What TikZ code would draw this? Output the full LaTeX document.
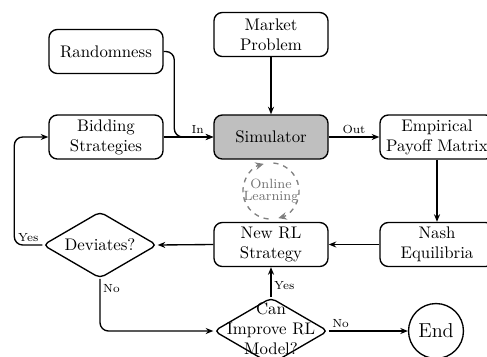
\documentclass[tikz,border=0pt]{standalone}
\usetikzlibrary{arrows.meta,shapes.geometric,calc}
\begin{document}
\begin{tikzpicture}[x=0.5952pt,y=-0.5952pt,
  box/.style={draw,thick,rounded corners=5pt,minimum width=67.9pt,minimum height=26.2pt,align=center,inner sep=2pt},
  decision/.style={draw,thick,diamond,rounded corners=3pt,minimum width=67.9pt,minimum height=39.6pt,inner sep=0pt,aspect=1.7},
  endnode/.style={draw,thick,circle,minimum size=32.7pt,inner sep=0pt,font=\large},
  arr/.style={thick,-{Stealth[length=4.5pt,width=3.6pt]}},
  lbl/.style={font=\scriptsize,inner sep=1.5pt},
  olarr/.style={gray,thick,dashed,-{Stealth[length=5pt,width=4.5pt]}}
]
\useasboundingbox (0,0) rectangle (487,356);
% nodes
\node[box] (rand) at (106,51.5) {Randomness};
\node[box] (mkt) at (271,34.5) {Market\\Problem};
\node[box] (bid) at (106,137) {Bidding\\Strategies};
\node[box,fill=gray!50] (sim) at (271,137) {Simulator};
\node[box] (emp) at (437,137) {Empirical\\Payoff Matrix};
\node[box] (nash) at (437,244.5) {Nash\\Equilibria};
\node[box] (new) at (271,244.5) {New RL\\Strategy};
\node[decision] (dev) at (100,245) {Deviates?};
\node[decision] (can) at (271,331) {};
\node[align=center] (cantext) at (271,328.5) {Can\\Improve RL\\Model?};
\node[endnode] (end) at (436,331) {End};
% online learning loop
\node[circle,minimum size=33.4pt,inner sep=0pt,align=center,font=\footnotesize,text=gray!90!black] (ol) at (271,191) {Online\\[-2.5pt]Learning};
\draw[olarr] ($(ol.center)+(265:16.7pt)$) arc[start angle=265,end angle=105,radius=16.7pt];
\draw[olarr] ($(ol.center)+(85:16.7pt)$) arc[start angle=85,end angle=-75,radius=16.7pt];
% connectors
\draw[arr,rounded corners=5pt] (rand.east) -| ($(sim.west)+(-39,0)$) -- node[lbl,above,pos=0.6]{In} (sim.west);
\draw[arr] (bid.east) -- (sim.west);
\draw[arr] (mkt.south) -- (sim.north);
\draw[arr] (sim.east) -- node[lbl,above]{Out} (emp.west);
\draw[arr] (emp.south) -- (nash.north);
\draw[arr] (nash.west) -- (new.east);
\draw[arr] (new.west) -- (dev.east);
\draw[arr,rounded corners=5pt] (dev.west) -- node[lbl,above]{Yes} ++(-28,0) |- (bid.west);
\draw[arr,rounded corners=5pt] (dev.south) |- node[lbl,right,pos=0.09]{No} (can.west);
\draw[arr] (can.north) -- node[lbl,right,pos=0.4]{Yes} (new.south);
\draw[arr] (can.east) -- node[lbl,above,pos=0.15]{No} (end.west);
\end{tikzpicture}
\end{document}
